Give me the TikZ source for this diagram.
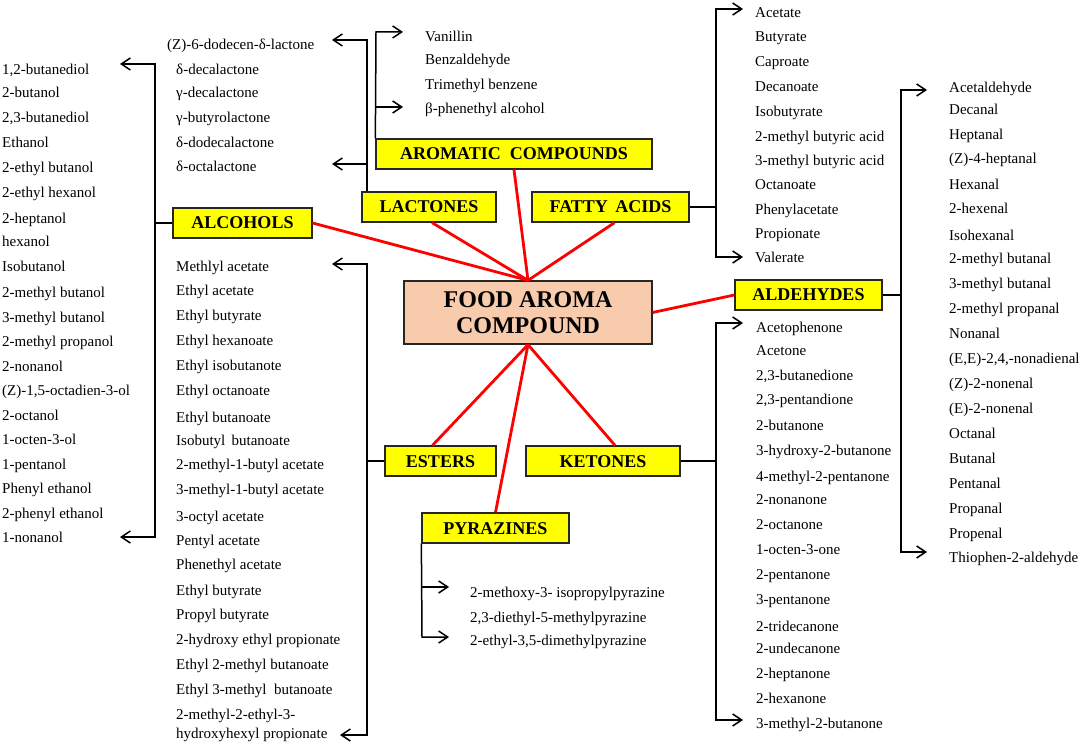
\documentclass[tikz,border=0pt]{standalone}
\usepackage{fontspec}
\setmainfont{Liberation Serif}
\usetikzlibrary{arrows.meta}
\definecolor{boxyellow}{HTML}{FFFF00}
\definecolor{peach}{HTML}{F8CBAD}
\definecolor{linkred}{HTML}{FF0000}
\tikzset{
 item/.style={anchor=base west, inner sep=0pt, font=\fontsize{15}{18}\selectfont},
 catbox/.style={draw=black!85, line width=1.3pt, fill=boxyellow, inner sep=0pt, minimum height=30pt,
   font=\fontsize{18}{20}\selectfont\bfseries, text height=12pt, text depth=0pt},
 foodbox/.style={draw=black!85, line width=1.3pt, fill=peach, inner sep=0pt, align=center,
   font=\fontsize{24}{26}\selectfont\bfseries},
 conn/.style={line width=1.5pt, black},
 tipend/.style={-{Straight Barb[length=9pt,width=12pt]}},
 tipboth/.style={{Straight Barb[length=9pt,width=12pt]}-{Straight Barb[length=9pt,width=12pt]}},
 redlink/.style={linkred, line width=2.8pt},
}
\begin{document}
\begin{tikzpicture}[x=1pt,y=-1pt]
\useasboundingbox[fill=white] (0,0) rectangle (1084,743);

% red links (drawn first, under the boxes)
\coordinate (foodN) at (528,281);
\coordinate (foodS) at (528,344);

% category boxes
\node[catbox, minimum width=139pt] (alc) at (242.5,223) {ALCOHOLS};
\node[catbox, minimum width=134pt] (lac) at (429,207) {LACTONES};
\node[catbox, minimum width=276pt] (aro) at (514,154) {AROMATIC\ \ COMPOUNDS};
\node[catbox, minimum width=157pt] (fat) at (610.5,207) {FATTY\ \,ACIDS};
\node[catbox, minimum width=147pt] (ald) at (808.5,295) {ALDEHYDES};
\node[catbox, minimum width=111pt] (est) at (440.5,461) {ESTERS};
\node[catbox, minimum width=154pt] (ket) at (603,461) {KETONES};
\node[catbox, minimum width=147pt] (pyr) at (495.5,528) {PYRAZINES};
\node[foodbox, minimum width=248pt, minimum height=63pt] (food) at (528,312.5) {FOOD AROMA\\COMPOUND};

% red links
\draw[redlink] (alc.east) -- (food.north);
\draw[redlink] ([xshift=3pt]lac.south) -- (food.north);
\draw[redlink] (aro.south) -- (food.north);
\draw[redlink] ([xshift=4pt]fat.south) -- (food.north);
\draw[redlink] (food.east) -- (ald.west);
\draw[redlink] (food.south) -- ([xshift=-8pt]est.north);
\draw[redlink] (food.south) -- (pyr.north);
\draw[redlink] (food.south) -- ([xshift=12pt]ket.north);

% alcohols
\node[item] (a1) at (2,75) {1,2-butanediol};
\node[item] (a2) at (2,98) {2-butanol};
\node[item] (a3) at (2,123) {2,3-butanediol};
\node[item] (a4) at (2,148) {Ethanol};
\node[item] (a5) at (2,173) {2-ethyl butanol};
\node[item] (a6) at (2,198) {2-ethyl hexanol};
\node[item] (a7) at (2,224) {2-heptanol};
\node[item] (a8) at (2,247) {hexanol};
\node[item] (a9) at (2,272) {Isobutanol};
\node[item] (a10) at (2,298) {2-methyl butanol};
\node[item] (a11) at (2,322) {3-methyl butanol};
\node[item] (a12) at (2,346) {2-methyl propanol};
\node[item] (a13) at (2,371) {2-nonanol};
\node[item] (a14) at (2,395) {(Z)-1,5-octadien-3-ol};
\node[item] (a15) at (2,420) {2-octanol};
\node[item] (a16) at (2,444) {1-octen-3-ol};
\node[item] (a17) at (2,469) {1-pentanol};
\node[item] (a18) at (2,493) {Phenyl ethanol};
\node[item] (a19) at (2,518) {2-phenyl ethanol};
\node[item] (a20) at (2,542) {1-nonanol};
\coordinate (alcT) at (120,64);
\coordinate (alcB) at (120,537);
\draw[conn] (alc.west) -- ++(-18,0);
\draw[conn,tipboth] (alcT) -- (155,64) -- (155,537) -- (alcB);

% lactones
\node[item] (l1) at (167,50) {(Z)-6-dodecen-δ-lactone};
\node[item] (l2) at (176,75) {δ-decalactone};
\node[item] (l3) at (176,98) {γ-decalactone};
\node[item] (l4) at (176,123) {γ-butyrolactone};
\node[item] (l5) at (176,148) {δ-dodecalactone};
\node[item] (l6) at (176,172) {δ-octalactone};
\coordinate (lacT) at (332,40);
\coordinate (lacB) at (332,164);
\draw[conn,tipend] (lac.north -| 367,0) -- (367,40) -- (lacT);
\draw[conn,tipend] (367,164) -- (lacB);

% aromatic compounds
\node[item] (r1) at (425,42) {Vanillin};
\node[item] (r2) at (425,65) {Benzaldehyde};
\node[item] (r3) at (425,90) {Trimethyl benzene};
\node[item] (r4) at (425,114) {β-phenethyl alcohol};
\coordinate (aroT) at (403,32);
\coordinate (aroB) at (403,107);
\draw[conn,tipend] (aro.north west) -- (376,32) -- (aroT);
\draw[conn,tipend] (376,107) -- (aroB);

% fatty acids
\node[item] (f1) at (755,18) {Acetate};
\node[item] (f2) at (755,42) {Butyrate};
\node[item] (f3) at (755,67) {Caproate};
\node[item] (f4) at (755,92) {Decanoate};
\node[item] (f5) at (755,117) {Isobutyrate};
\node[item] (f6) at (755,142) {2-methyl butyric acid};
\node[item] (f7) at (755,166) {3-methyl butyric acid};
\node[item] (f8) at (755,190) {Octanoate};
\node[item] (f9) at (755,215) {Phenylacetate};
\node[item] (f10) at (755,239) {Propionate};
\node[item] (f11) at (755,263) {Valerate};
\coordinate (fatT) at (743,9);
\coordinate (fatB) at (743,257);
\draw[conn] (fat.east) -- (716,207);
\draw[conn,tipboth] (fatT) -- (716,9) -- (716,257) -- (fatB);

% aldehydes
\node[item] (d1) at (949,93) {Acetaldehyde};
\node[item] (d2) at (949,115) {Decanal};
\node[item] (d3) at (949,140) {Heptanal};
\node[item] (d4) at (949,164) {(Z)-4-heptanal};
\node[item] (d5) at (949,190) {Hexanal};
\node[item] (d6) at (949,214) {2-hexenal};
\node[item] (d7) at (949,241) {Isohexanal};
\node[item] (d8) at (949,264) {2-methyl butanal};
\node[item] (d9) at (949,289) {3-methyl butanal};
\node[item] (d10) at (949,313) {2-methyl propanal};
\node[item] (d11) at (949,338) {Nonanal};
\node[item] (d12) at (949,363) {(E,E)-2,4,-nonadienal};
\node[item] (d13) at (949,388) {(Z)-2-nonenal};
\node[item] (d14) at (949,413) {(E)-2-nonenal};
\node[item] (d15) at (949,438) {Octanal};
\node[item] (d16) at (949,463) {Butanal};
\node[item] (d17) at (949,488) {Pentanal};
\node[item] (d18) at (949,513) {Propanal};
\node[item] (d19) at (949,538) {Propenal};
\node[item] (d20) at (949,562) {Thiophen-2-aldehyde};
\coordinate (aldT) at (927,90);
\coordinate (aldB) at (927,552);
\draw[conn] (ald.east) -- (901,295);
\draw[conn,tipboth] (aldT) -- (901,90) -- (901,552) -- (aldB);

% ketones
\node[item] (k1) at (756,332) {Acetophenone};
\node[item] (k2) at (756,355) {Acetone};
\node[item] (k3) at (756,380) {2,3-butanedione};
\node[item] (k4) at (756,404) {2,3-pentandione};
\node[item] (k5) at (756,430) {2-butanone};
\node[item] (k6) at (756,455) {3-hydroxy-2-butanone};
\node[item] (k7) at (756,481) {4-methyl-2-pentanone};
\node[item] (k8) at (756,504) {2-nonanone};
\node[item] (k9) at (756,529) {2-octanone};
\node[item] (k10) at (756,554) {1-octen-3-one};
\node[item] (k11) at (756,579) {2-pentanone};
\node[item] (k12) at (756,604) {3-pentanone};
\node[item] (k13) at (756,631) {2-tridecanone};
\node[item] (k14) at (756,653) {2-undecanone};
\node[item] (k15) at (756,678) {2-heptanone};
\node[item] (k16) at (756,703) {2-hexanone};
\node[item] (k17) at (756,728) {3-methyl-2-butanone};
\coordinate (ketT) at (743,323);
\coordinate (ketB) at (743,720);
\draw[conn] (ket.east) -- (716,461);
\draw[conn,tipboth] (ketT) -- (716,323) -- (716,720) -- (ketB);

% esters
\node[item] (e1) at (176,272) {Methlyl acetate};
\node[item] (e2) at (176,296) {Ethyl acetate};
\node[item] (e3) at (176,320) {Ethyl butyrate};
\node[item] (e4) at (176,345) {Ethyl hexanoate};
\node[item] (e5) at (176,370) {Ethyl isobutanote};
\node[item] (e6) at (176,395) {Ethyl octanoate};
\node[item] (e7) at (176,422) {Ethyl butanoate};
\node[item] (e8) at (176,445) {Isobutyl\ \,butanoate};
\node[item] (e9) at (176,469) {2-methyl-1-butyl acetate};
\node[item] (e10) at (176,494) {3-methyl-1-butyl acetate};
\node[item] (e11) at (176,521) {3-octyl acetate};
\node[item] (e12) at (176,545) {Pentyl acetate};
\node[item] (e13) at (176,569) {Phenethyl acetate};
\node[item] (e14) at (176,595) {Ethyl butyrate};
\node[item] (e15) at (176,619) {Propyl butyrate};
\node[item] (e16) at (176,644) {2-hydroxy ethyl propionate};
\node[item] (e17) at (176,669) {Ethyl 2-methyl butanoate};
\node[item] (e18) at (176,694) {Ethyl 3-methyl\ \ butanoate};
\node[item] (e19) at (176,719) {2-methyl-2-ethyl-3-};
\node[item] (e20) at (176,738) {hydroxyhexyl propionate};
\coordinate (estT) at (332,264);
\coordinate (estB) at (340,735);
\draw[conn] (est.west) -- (367,461);
\draw[conn,tipboth] (estT) -- (367,264) -- (367,735) -- (estB);

% pyrazines
\node[item] (p1) at (470,597) {2-methoxy-3- isopropylpyrazine};
\node[item] (p2) at (470,622) {2,3-diethyl-5-methylpyrazine};
\node[item] (p3) at (470,645) {2-ethyl-3,5-dimethylpyrazine};
\coordinate (pyrT) at (449,587);
\coordinate (pyrB) at (449,637);
\draw[conn,tipend] (pyr.south west) -- (422,637) -- (pyrB);
\draw[conn,tipend] (422,587) -- (pyrT);
\end{tikzpicture}
\end{document}
